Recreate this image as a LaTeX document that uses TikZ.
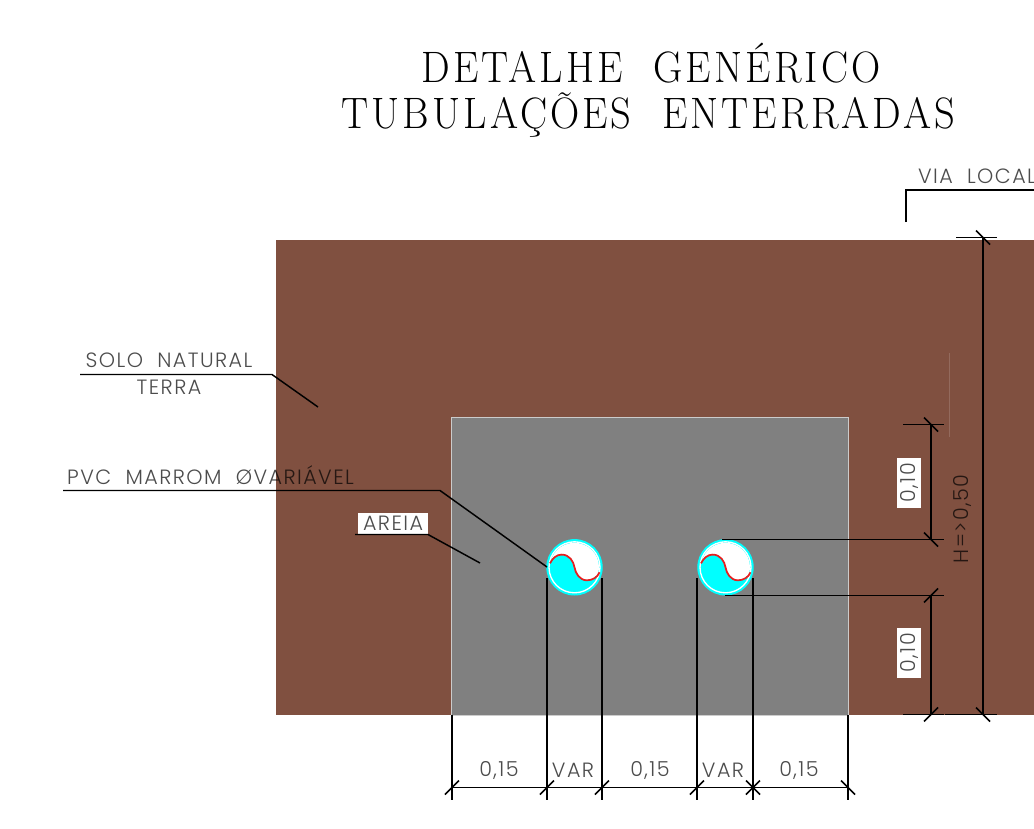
\documentclass[tikz,border=0pt]{standalone}
\usepackage{fontspec}
\usepackage{xcolor}
\usetikzlibrary{positioning}
\setmainfont{Liberation Sans}
\newfontfamily\titlefont[LetterSpace=7,FakeStretch=0.92]{Latin Modern Roman}
\newfontfamily\labelfont[LetterSpace=7]{Poppins Light}
\definecolor{soil}{HTML}{805040}
\definecolor{sand}{HTML}{808080}
\definecolor{pipecyan}{RGB}{0,255,255}
\definecolor{pipered}{RGB}{230,30,30}
\tikzset{
  lead/.style={draw=black, line width=1.1pt},
  tick/.style={draw=black, line width=1.1pt},
  dimtext/.style={inner sep=1.5pt, font=\labelfont\fontsize{15.5}{17}\selectfont, text=black, text opacity=0.7},
  boxtext/.style={dimtext, fill=white, minimum width=50*0.75pt, minimum height=24.5*0.75pt, inner sep=0pt},
  headline/.style={inner sep=0pt, anchor=base, font=\titlefont\fontsize{33}{36}\selectfont, text=black}
}
\newcommand{\tickf}[1]{\draw[tick] (#1) ++(-7,7) -- ++(14,-14);}
\newcommand{\tickb}[1]{\draw[tick] (#1) ++(-7,-7) -- ++(14,14);}
\newcommand{\pipe}[1]{%
  \begin{scope}[shift={(#1)}]
    \fill[pipecyan] (0,0) circle (28.2);
    \begin{scope}
      \clip (0,0) circle (24.5);
      \fill[white] (-24.5,-4) .. controls (-22,-9) and (-18,-12.7) .. (-13,-12.7) .. controls (-5,-12.7) and (-1,-6) .. (0,0) .. controls (1,6) and (5,13) .. (12.5,13) .. controls (18,13) and (23,10) .. (25,5) -- (30,-30) -- (-30,-30) -- cycle;
    \end{scope}
    \draw[white, line width=1pt] (0,0) circle (25.5);
    \draw[pipered, line width=1.3pt] (-24.5,-4) .. controls (-22,-9) and (-18,-12.7) .. (-13,-12.7) .. controls (-5,-12.7) and (-1,-6) .. (0,0) .. controls (1,6) and (5,13) .. (12.5,13) .. controls (18,13) and (23,10) .. (25,5);
  \end{scope}}

\begin{document}
\begin{tikzpicture}[x=0.75pt, y=-0.75pt]
\clip (0,0) rectangle (1034,828);
% ground
\fill[white] (0,0) rectangle (1034,828);
\fill[soil] (276,240) rectangle (1034,715);
\filldraw[fill=sand, draw=gray!40, line width=0.4pt] (451,417) rectangle (848,715);
\draw[soil!85!white, line width=0.6pt] (949.5,353) -- (949.5,437);

% pipes
\pipe{574.5,567.3}
\pipe{725.5,567.3}

% title
\node[headline] (title1) at (651,82) {DETALHE\ \ GENÉRICO};
\node[headline] (title2) at (648.5,128) {TUBULAÇÕES\ \ ENTERRADAS};

% labels
\node[dimtext] (via) at (977,176) {VIA\ \ LOCAL};
\node[dimtext] (solo) at (169,360) {SOLO\ \ NATURAL};
\node[dimtext, below=6pt of solo] (terra) {TERRA};
\node[dimtext] (pvc) at (210.5,475) {PVC\ \ MARROM\ \ ØVARIÁVEL};
\node[boxtext, minimum width=70*0.75pt, minimum height=21*0.75pt] (areia) at (393,523.5) {AREIA};
\node[dimtext] (w1) at (499,770) {0,15};
\node[dimtext] (v1) at (573,770) {VAR};
\node[dimtext] (w2) at (650,770) {0,15};
\node[dimtext] (v2) at (723,770) {VAR};
\node[dimtext] (w3) at (799,770) {0,15};
\node[boxtext, rotate=90] (h1) at (909,482.5) {0,10};
\node[boxtext, rotate=90] (h2) at (909,652.5) {0,10};
\node[dimtext, rotate=90] (htot) at (962,519) {H=>0,50};

% leader points
\coordinate (viaA) at (906,222);
\coordinate (viaB) at (906,190);
\coordinate (viaC) at (1034,190);
\coordinate (soloA) at (80,374.5);
\coordinate (soloB) at (272,374.5);
\coordinate (soloC) at (318,407);
\coordinate (pvcA) at (63,490.5);
\coordinate (pvcB) at (440,490.5);
\coordinate (pvcC) at (547,567);
\coordinate (areiaA) at (355,534.5);
\coordinate (areiaB) at (428,534.5);
\coordinate (areiaC) at (480,563);

% leaders
\draw[lead] (viaA) -- (viaB) -- (viaC);
\draw[lead] (soloA) -- (soloB) -- (soloC);
\draw[lead] (pvcA) -- (pvcB) -- (pvcC);
\draw[lead] (areiaA) -- (areiaB) -- (areiaC);

% bottom dimension
\foreach \name/\px/\py in {a/452/715, b/547/578, c/602/578, d/697/578, e/753/578, f/848/715} {
  \coordinate (\name top) at (\px,\py);
  \coordinate (\name dim) at (\px,787.5);
  \coordinate (\name end) at (\px,800);
  \draw[tick] (\name top) -- (\name end);
}
\draw[tick] (adim) -- (fdim);
\foreach \name in {a,b,c,d,e} {\tickf{\name dim}}
\tickb{edim}
\tickb{fdim}

% right dimension
\coordinate (r1) at (931,424.5);
\coordinate (r2) at (931,539.5);
\coordinate (r3) at (931,595.5);
\coordinate (r4) at (931,714.5);
\coordinate (t1) at (983,237.5);
\coordinate (t2) at (983,714.5);
\draw[tick] (r1) -- (r2);
\draw[tick] (r3) -- (r4);
\draw[tick] (t1) -- (t2);
\draw[tick] (r1) ++(-28,0) -- ++(41,0);
\draw[tick] (722,539.5) -- (944,539.5);
\draw[tick] (725,595.5) -- (944,595.5);
\draw[tick] (r4) ++(-28,0) -- ++(41,0);
\draw[tick] (t1) ++(-27,0) -- ++(41,0);
\draw[tick] (t2) ++(-38,0) -- ++(52,0);
\tickb{r1}
\tickb{r2}
\tickf{r3}
\tickf{r4}
\tickb{t1}
\tickb{t2}
\end{tikzpicture}
\end{document}
